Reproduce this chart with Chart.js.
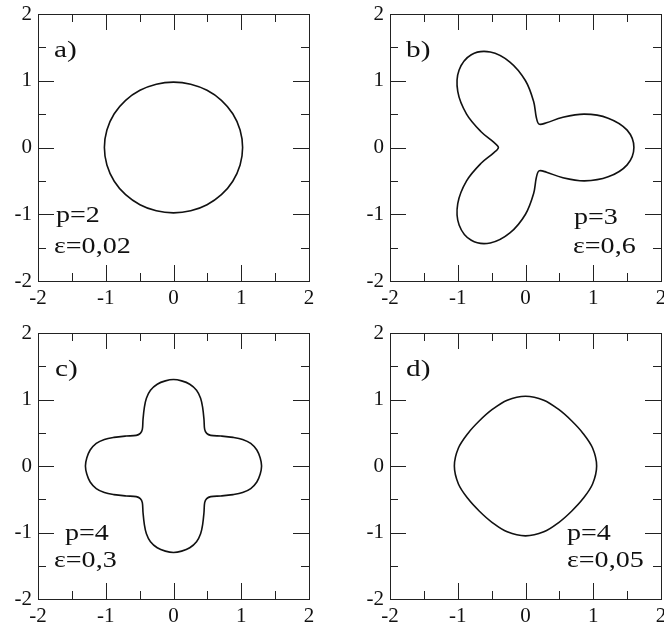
<!DOCTYPE html>
<html lang="en">
<head>
<meta charset="UTF-8" />
<title>Shapes p / epsilon</title>
<script src="https://cdn.jsdelivr.net/npm/chart.js"></script>
<style>
  html, body {
    margin: 0;
    padding: 0;
    background: #fff;
    overflow: hidden;
  }
  .panel {
    position: absolute;
  }
</style>
</head>
<body>

<canvas id="pa" class="panel" width="332" height="313" style="left:0;top:0"></canvas>
<canvas id="pb" class="panel" width="332" height="313" style="left:332px;top:0"></canvas>
<canvas id="pc" class="panel" width="332" height="313" style="left:0;top:313px"></canvas>
<canvas id="pd" class="panel" width="332" height="313" style="left:332px;top:313px"></canvas>

<script>
  // axis ticks (same on x and y)
  const majorTicks = [-2, -1, 0, 1, 2];
  const minorTicks = [-1.5, -0.5, 0.5, 1.5];

  // panel texts
  const panelTags = ['a)', 'b)', 'c)', 'd)'];
  const pLabels = ['p=2', 'p=3', 'p=4', 'p=4'];
  const epsLabels = ['\u03b5=0,02', '\u03b5=0,6', '\u03b5=0,3', '\u03b5=0,05'];

  // a) p=2, eps=0.02
  const curveAx = [1.020, 0.983, 0.875, 0.707, 0.495, 0.254, 0.000, -0.254, -0.495, -0.707, -0.875, -0.983, -1.020,
                   -0.983, -0.875, -0.707, -0.495, -0.254, 0.000, 0.254, 0.495, 0.707, 0.875, 0.983, 1.020];
  const curveAy = [0.000, 0.263, 0.505, 0.707, 0.857, 0.949, 0.980, 0.949, 0.857, 0.707, 0.505, 0.263, 0.000,
                   -0.263, -0.505, -0.707, -0.857, -0.949, -0.980, -0.949, -0.857, -0.707, -0.505, -0.263, 0.000];

  // b) p=3, eps=0.6
  const curveBx = [1.60, 1.50, 1.22, 0.87, 0.54, 0.31, 0.20, 0.16, 0.12, 0.00,
                   -0.23, -0.52, -0.80, -0.98, -1.00, -0.87, -0.66, -0.47, -0.40,
                   -0.47, -0.66, -0.87, -1.00, -0.98, -0.80, -0.52, -0.23, 0.00,
                   0.12, 0.16, 0.20, 0.31, 0.54, 0.87, 1.22, 1.50, 1.60];
  const curveBy = [0.00, 0.26, 0.44, 0.50, 0.45, 0.37, 0.35, 0.45, 0.69, 1.00,
                   1.28, 1.43, 1.39, 1.16, 0.84, 0.50, 0.24, 0.08, 0.00,
                   -0.08, -0.24, -0.50, -0.84, -1.16, -1.39, -1.43, -1.28, -1.00,
                   -0.69, -0.45, -0.35, -0.37, -0.45, -0.50, -0.44, -0.26, 0.00];

  // c) p=4, eps=0.3
  const curveCx = [1.30, 1.28, 1.23, 1.14, 1.02, 0.88, 0.70, 0.55, 0.49, 0.46, 0.45, 0.43, 0.40, 0.34, 0.24, 0.12, 0.00,
                   -0.12, -0.24, -0.34, -0.40, -0.43, -0.45, -0.46, -0.49, -0.55, -0.70, -0.88, -1.02, -1.14, -1.23, -1.28, -1.30,
                   -1.28, -1.23, -1.14, -1.02, -0.88, -0.70, -0.55, -0.49, -0.46, -0.45, -0.43, -0.40, -0.34, -0.24, -0.12, 0.00,
                   0.12, 0.24, 0.34, 0.40, 0.43, 0.45, 0.46, 0.49, 0.55, 0.70, 0.88, 1.02, 1.14, 1.23, 1.28, 1.30];
  const curveCy = [0.00, 0.12, 0.24, 0.34, 0.40, 0.43, 0.45, 0.46, 0.49, 0.55, 0.70, 0.88, 1.02, 1.14, 1.23, 1.28, 1.30,
                   1.28, 1.23, 1.14, 1.02, 0.88, 0.70, 0.55, 0.49, 0.46, 0.45, 0.43, 0.40, 0.34, 0.24, 0.12, 0.00,
                   -0.12, -0.24, -0.34, -0.40, -0.43, -0.45, -0.46, -0.49, -0.55, -0.70, -0.88, -1.02, -1.14, -1.23, -1.28, -1.30,
                   -1.28, -1.23, -1.14, -1.02, -0.88, -0.70, -0.55, -0.49, -0.46, -0.45, -0.43, -0.40, -0.34, -0.24, -0.12, 0.00];

  // d) p=4, eps=0.05
  const curveDx = [1.05, 0.99, 0.85, 0.68, 0.49, 0.27, 0.00, -0.27, -0.49, -0.68, -0.85, -0.99, -1.05,
                   -0.99, -0.85, -0.68, -0.49, -0.27, 0.00, 0.27, 0.49, 0.68, 0.85, 0.99, 1.05];
  const curveDy = [0.00, 0.27, 0.49, 0.68, 0.85, 0.99, 1.05, 0.99, 0.85, 0.68, 0.49, 0.27, 0.00,
                   -0.27, -0.49, -0.68, -0.85, -0.99, -1.05, -0.99, -0.85, -0.68, -0.49, -0.27, 0.00];

  const serif = '"Liberation Serif", "Times New Roman", serif';
  const ink = '#111';

  // canvas layout: y axis width, x axis height, top/right padding, text offsets from the plot corner
  const panels = [
    { id: 'pa', xs: curveAx, ys: curveAy, yW: 38, xH: 32, top: 14, right: 23,
      tagAt: [16, 43], pAt: [18, 208], eAt: [16, 239] },
    { id: 'pb', xs: curveBx, ys: curveBy, yW: 58, xH: 32, top: 14, right: 3,
      tagAt: [16, 43], pAt: [184, 210], eAt: [183, 239] },
    { id: 'pc', xs: curveCx, ys: curveCy, yW: 38, xH: 27, top: 20, right: 23,
      tagAt: [17, 43], pAt: [27, 207], eAt: [16, 234] },
    { id: 'pd', xs: curveDx, ys: curveDy, yW: 58, xH: 27, top: 20, right: 3,
      tagAt: [16, 43], pAt: [177, 207], eAt: [177, 234] }
  ];

  function loopPoints(xs, ys) {
    const pts = xs.map((x, i) => ({ x: x, y: ys[i] }));
    // extra neighbour on each end so the spline closes smoothly;
    // the two end segments are hidden below
    return [pts[pts.length - 2], ...pts, pts[1]];
  }

  function stretchedText(ctx, text, x, y, size) {
    ctx.save();
    ctx.font = size + 'px ' + serif;
    ctx.translate(x, y);
    ctx.scale(1.22, 1);
    ctx.fillText(text, 0, 0);
    ctx.restore();
  }

  // frame with inward ticks on all four sides, plus the panel texts
  const frameTicks = {
    id: 'frameTicks',
    afterDraw(chart, args, opts) {
      const { ctx, chartArea } = chart;
      const { left, right, top, bottom } = chartArea;
      const sx = chart.scales.x, sy = chart.scales.y;
      ctx.save();
      ctx.strokeStyle = '#222';
      ctx.lineWidth = 1;
      ctx.beginPath();
      const mark = (v, len) => {
        const px = Math.round(sx.getPixelForValue(v)) + 0.5;
        ctx.moveTo(px, bottom); ctx.lineTo(px, bottom - len);
        ctx.moveTo(px, top); ctx.lineTo(px, top + len);
        const py = Math.round(sy.getPixelForValue(v)) + 0.5;
        ctx.moveTo(left, py); ctx.lineTo(left + len, py);
        ctx.moveTo(right, py); ctx.lineTo(right - len, py);
      };
      majorTicks.filter(v => v > -2 && v < 2).forEach(v => mark(v, 16));
      minorTicks.forEach(v => mark(v, 8));
      ctx.stroke();
      ctx.strokeRect(Math.round(left) + 0.5, Math.round(top) + 0.5,
                     Math.round(right - left), Math.round(bottom - top));

      const i = opts.index, p = panels[i];
      ctx.fillStyle = ink;
      ctx.textBaseline = 'alphabetic';
      stretchedText(ctx, panelTags[i], left + p.tagAt[0], top + p.tagAt[1], 24);
      stretchedText(ctx, pLabels[i], left + p.pAt[0], top + p.pAt[1], 23);
      stretchedText(ctx, epsLabels[i], left + p.eAt[0], top + p.eAt[1], 23);
      ctx.restore();
    }
  };

  function axis(size, isX) {
    return {
      type: 'linear',
      min: -2,
      max: 2,
      grid: { display: false, drawTicks: false },
      border: { display: false },
      afterBuildTicks: s => { s.ticks = majorTicks.map(v => ({ value: v })); },
      ticks: {
        color: ink,
        padding: isX ? 5 : 6,
        font: { family: serif, size: 21 },
        callback: v => String(v)
      },
      afterFit: s => {
        if (isX) s.height = size; else s.width = size;
        s.paddingLeft = s.paddingRight = s.paddingTop = s.paddingBottom = 0;
      }
    };
  }

  panels.forEach((p, i) => {
    const pts = loopPoints(p.xs, p.ys);
    const last = pts.length - 1;
    new Chart(document.getElementById(p.id), {
      type: 'scatter',
      data: {
        datasets: [{
          data: pts,
          showLine: true,
          borderColor: ink,
          borderWidth: 1.6,
          pointRadius: 0,
          tension: 0.34,
          fill: false,
          segment: {
            borderColor: c => (c.p0DataIndex === 0 || c.p1DataIndex === last) ? 'rgba(0,0,0,0)' : undefined
          }
        }]
      },
      options: {
        responsive: false,
        devicePixelRatio: 1,
        animation: false,
        events: [],
        layout: { padding: { top: p.top, right: p.right, bottom: 0, left: 0 } },
        plugins: {
          legend: { display: false },
          tooltip: { enabled: false },
          frameTicks: { index: i }
        },
        scales: {
          x: axis(p.xH, true),
          y: axis(p.yW, false)
        }
      },
      plugins: [frameTicks]
    });
  });
</script>

</body>
</html>
